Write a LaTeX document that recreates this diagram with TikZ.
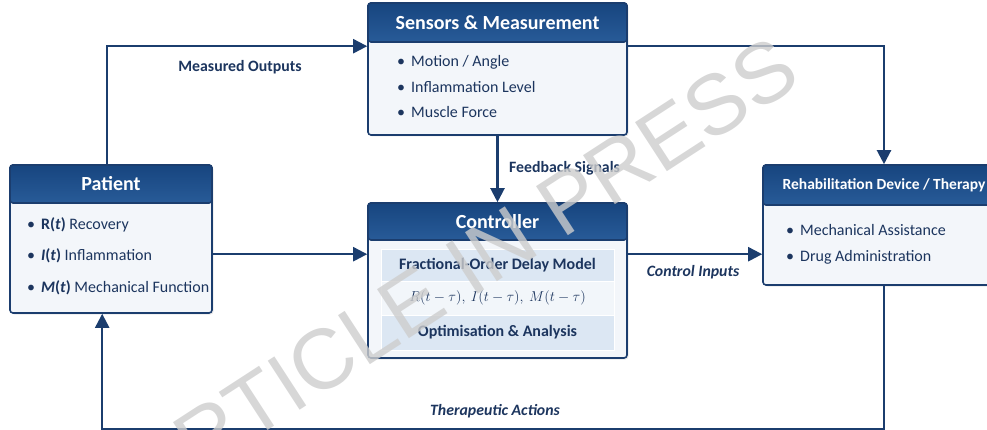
\documentclass[tikz,border=0pt]{standalone}
\usepackage{fontspec}
\setmainfont{Carlito}
\newfontfamily\stampfont{Liberation Sans}
\usetikzlibrary{arrows.meta,calc,shadows}

\definecolor{navy}{HTML}{1B3D6E}
\definecolor{headtop}{HTML}{17457F}
\definecolor{headbot}{HTML}{285B98}
\definecolor{bodyfill}{HTML}{F3F6FA}
\definecolor{txt}{HTML}{1C355E}
\definecolor{panelA}{HTML}{DCE7F3}
\definecolor{panelB}{HTML}{F2F6FA}
\definecolor{stampgray}{HTML}{CDCDCD}

\tikzset{
  blockbody/.style={draw=navy, line width=1.6pt, fill=bodyfill, rounded corners=3pt,
    inner sep=0pt, drop shadow={opacity=0.18, shadow xshift=1.5pt, shadow yshift=-1.5pt}},
  blockhead/.style={draw=navy, line width=1.6pt, top color=headtop, bottom color=headbot,
    rounded corners=3pt, text=white, font=\bfseries\fontsize{20}{22}\selectfont, inner sep=0pt},
  item/.style={anchor=west, text=txt, font=\fontsize{16}{19}\selectfont, inner sep=0pt},
  panel/.style={fill=#1, draw=white, line width=0.8pt, inner sep=0pt, text=txt,
    minimum width=233pt},
  flow/.style={draw=navy, line width=2.2pt, -{Triangle[length=14pt,width=14pt]}},
  lbl/.style={text=txt, font=\bfseries\fontsize{15.8}{18}\selectfont, inner sep=0pt},
}

\newcommand{\bul}{\textbullet\hspace{6pt}}

\begin{document}
\begin{tikzpicture}[x=1pt, y=-1pt]
  \useasboundingbox (0,0) rectangle (987,430);
  \clip (0,0) rectangle (987,430);

  % ---------- Patient ----------
  \node[blockbody, minimum width=202pt, minimum height=148pt] (patient) at (111,239) {};
  \node[blockhead, minimum width=202pt, minimum height=38pt, anchor=north] (patientH)
    at (patient.north) {Patient};
  \node[item] (p1) at (27,225) {\bul\textbf{R(\textit{t})} Recovery};
  \node[item] (p2) at (27,256) {\bul\textbf{\textit{I}(\textit{t})} Inflammation};
  \node[item] (p3) at (27,288) {\bul\textbf{\textit{M}(\textit{t})} Mechanical Function};

  % ---------- Sensors ----------
  \node[blockbody, minimum width=259pt, minimum height=132pt] (sensors) at (497.5,69) {};
  \node[blockhead, minimum width=259pt, minimum height=39pt, anchor=north] (sensorsH)
    at (sensors.north) {Sensors \& Measurement};
  \node[item] (s1) at (397,62) {\bul Motion / Angle};
  \node[item] (s2) at (397,87) {\bul Inflammation Level};
  \node[item] (s3) at (397,112) {\bul Muscle Force};

  % ---------- Controller ----------
  \node[blockbody, minimum width=259pt, minimum height=155pt] (ctrl) at (497.5,280.5) {};
  \node[blockhead, minimum width=259pt, minimum height=37pt, anchor=north] (ctrlH)
    at (ctrl.north) {Controller};
  \node[panel=panelA, minimum height=32pt, font=\bfseries\fontsize{16}{19}\selectfont]
    (m1) at (497.5,265) {Fractional-Order Delay Model};
  \node[panel=panelB, minimum height=34pt, font=\fontsize{14}{17}\selectfont]
    (m2) at (497.5,298) {$R(t-\tau),\ I(t-\tau),\ M(t-\tau)$};
  \node[panel=panelA, minimum height=35pt, font=\bfseries\fontsize{16}{19}\selectfont]
    (m3) at (497.5,332.5) {Optimisation \& Analysis};

  % ---------- Rehabilitation device ----------
  \node[blockbody, minimum width=242pt, minimum height=120pt] (rehab) at (884,225) {};
  \node[blockhead, minimum width=242pt, minimum height=40pt, anchor=north,
    font=\bfseries\fontsize{15.5}{18}\selectfont] (rehabH)
    at (rehab.north) {Rehabilitation Device / Therapy};
  \node[item] (r1) at (786,230) {\bul Mechanical Assistance};
  \node[item] (r2) at (786,257) {\bul Drug Administration};

  % ---------- Signal flow ----------
  \draw[flow] ($(patient.north west)+(98,0)$) |- ($(sensors.north west)+(0,44)$);
  \draw[flow] ($(sensors.north east)+(0,44)$) -| (rehab.north);
  \draw[flow] (sensors.south) -- (ctrl.north);
  \draw[flow] ($(patient.north east)+(0,90)$) -- ($(ctrl.north west)+(0,52)$);
  \draw[flow] ($(ctrl.north east)+(0,52)$) -- ($(rehab.north west)+(0,90)$);
  \draw[flow] (rehab.south) -- ++(0,143) -| ($(patient.south west)+(93,0)$);

  \node[lbl] (lmeas) at (240,67) {Measured Outputs};
  \node[lbl, anchor=west] (lfeed) at (509,168) {Feedback Signals};
  \node[lbl, font=\bfseries\itshape\fontsize{15.8}{18}\selectfont] (lctrl) at (693,272) {Control Inputs};
  \node[lbl, font=\bfseries\itshape\fontsize{15.8}{18}\selectfont] (ltherapy) at (495,411) {Therapeutic Actions};

  % ---------- Stamp ----------
  \node[rotate=33, text=stampgray, opacity=0.8, inner sep=0pt,
    font=\stampfont\fontsize{85}{85}\selectfont] (stamp) at (462,270) {ARTICLE IN PRESS};
\end{tikzpicture}
\end{document}
